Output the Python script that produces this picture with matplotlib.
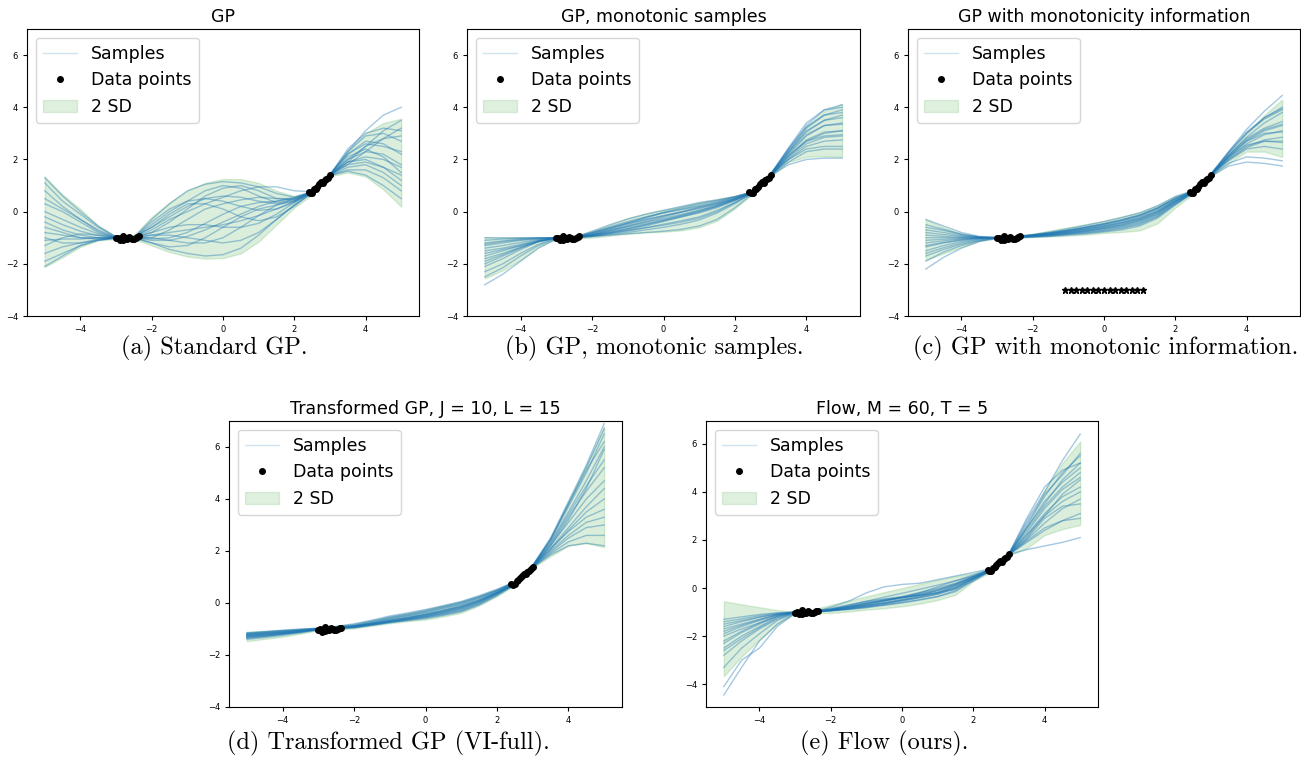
import numpy as np
import matplotlib
matplotlib.use("Agg")
import matplotlib.pyplot as plt
from matplotlib.lines import Line2D
from matplotlib.patches import Patch

# shared x grid for all curves
X = [-5.0, -4.5, -4.0, -3.5, -3.0, -2.5, -2.0, -1.5, -1.0, -0.5, 0.0,
     0.5, 1.0, 1.5, 2.0, 2.5, 3.0, 3.5, 4.0, 4.5, 5.0]

X_DATA = [-3.0, -2.95, -2.9, -2.87, -2.82, -2.8, -2.75, -2.7, -2.65, -2.6,
          -2.55, -2.5, -2.45, -2.4, -2.36,
          2.4, 2.45, 2.5, 2.55, 2.6, 2.65, 2.7, 2.75, 2.8, 2.85, 2.9, 2.95, 3.0]
Y_DATA = [-1.02, -1.0, -1.1, -1.05, -0.92, -1.08, -1.02, -1.05, -0.97, -1.0,
          -1.04, -1.03, -1.0, -0.97, -0.95,
          0.75, 0.7, 0.72, 0.85, 0.88, 0.95, 1.05, 1.12, 1.1, 1.2, 1.25, 1.3, 1.4]

# virtual monotonicity points in panel (c)
X_VIRT = [-1.1, -0.94, -0.79, -0.63, -0.47, -0.31, -0.16, 0.0,
          0.16, 0.31, 0.47, 0.63, 0.79, 0.94, 1.1]
Y_VIRT = [-3.0] * 15

# (a) standard GP
A_UP = [1.33, 0.65, 0.1, -0.55, -0.95, -0.9, -0.2, 0.35, 0.8, 1.1, 1.25,
        1.25, 1.1, 0.8, 0.6, 0.75, 1.45, 2.3, 3.0, 3.4, 3.56]
A_LO = [-2.12, -1.75, -1.35, -1.1, -1.05, -1.05, -1.3, -1.55, -1.72, -1.8, -1.78,
        -1.6, -1.15, -0.5, 0.15, 0.65, 1.35, 1.5, 1.35, 0.85, 0.19]
A_SAMPLES = [
    [1.1, 0.4, -0.1, -0.6, -0.98, -1.0, -0.3, 0.3, 0.8, 1.05, 1.15, 1.1, 0.95, 0.7, 0.55, 0.78, 1.42, 2.3, 3.1, 3.7, 4.0],
    [-1.9, -1.6, -1.3, -1.1, -1.02, -1.0, -1.2, -1.45, -1.6, -1.7, -1.65, -1.4, -0.9, -0.3, 0.25, 0.72, 1.38, 1.55, 1.4, 1.0, 0.5],
    [0.5, 0.1, -0.3, -0.7, -1.0, -0.95, -0.6, -0.2, 0.2, 0.5, 0.6, 0.55, 0.4, 0.3, 0.4, 0.75, 1.4, 2.0, 2.5, 2.8, 2.9],
    [-0.8, -0.9, -1.0, -1.0, -1.0, -1.0, -0.9, -0.8, -0.7, -0.6, -0.5, -0.35, -0.15, 0.1, 0.4, 0.74, 1.4, 1.9, 2.1, 2.0, 1.7],
    [-1.3, -1.0, -0.85, -0.9, -1.0, -1.02, -1.1, -1.1, -0.95, -0.7, -0.4, -0.1, 0.2, 0.4, 0.55, 0.76, 1.41, 2.2, 2.7, 2.6, 2.2],
    [0.0, -0.3, -0.6, -0.85, -1.0, -0.98, -0.8, -0.6, -0.5, -0.5, -0.6, -0.6, -0.45, -0.1, 0.35, 0.75, 1.38, 1.7, 1.8, 1.5, 1.0],
    [-0.4, -0.7, -0.9, -1.0, -1.0, -1.0, -0.7, -0.3, 0.0, 0.3, 0.55, 0.8, 0.95, 0.95, 0.8, 0.76, 1.4, 2.2, 2.6, 2.5, 2.3],
    [-1.6, -1.35, -1.2, -1.05, -1.0, -1.0, -1.05, -1.0, -0.8, -0.45, -0.1, 0.2, 0.35, 0.4, 0.5, 0.74, 1.4, 1.8, 2.3, 2.8, 3.2],
    [0.8, 0.2, -0.3, -0.75, -1.0, -1.0, -0.9, -0.9, -1.0, -1.1, -1.2, -1.1, -0.8, -0.3, 0.25, 0.73, 1.39, 1.6, 1.6, 1.3, 0.8],
    [-1.1, -1.05, -1.05, -1.0, -1.0, -1.0, -0.5, 0.0, 0.4, 0.8, 1.0, 0.9, 0.6, 0.35, 0.45, 0.75, 1.42, 2.0, 2.3, 2.2, 1.8],
    [-0.2, -0.5, -0.75, -0.92, -1.0, -1.0, -1.0, -1.1, -1.2, -1.2, -1.0, -0.6, -0.15, 0.25, 0.5, 0.75, 1.4, 2.4, 3.0, 3.2, 3.1],
    [1.3, 0.6, 0.0, -0.55, -0.97, -0.98, -0.4, 0.1, 0.4, 0.5, 0.4, 0.2, 0.05, 0.1, 0.35, 0.74, 1.41, 1.9, 2.0, 1.7, 1.2],
    [-2.1, -1.7, -1.3, -1.08, -1.01, -1.0, -0.8, -0.4, 0.1, 0.6, 0.9, 1.0, 0.8, 0.5, 0.45, 0.75, 1.39, 1.9, 2.5, 3.1, 3.5],
    [0.3, 0.0, -0.4, -0.8, -1.0, -1.02, -1.2, -1.35, -1.3, -1.0, -0.6, -0.2, 0.1, 0.25, 0.4, 0.74, 1.4, 2.1, 2.4, 2.1, 1.5],
    [-0.6, -0.8, -1.0, -1.05, -1.0, -1.0, -0.6, -0.1, 0.3, 0.3, 0.1, -0.2, -0.35, -0.2, 0.2, 0.73, 1.42, 2.3, 2.9, 3.0, 2.7],
    [-1.0, -1.2, -1.2, -1.1, -1.0, -1.0, -1.0, -0.7, -0.3, 0.1, 0.3, 0.45, 0.55, 0.5, 0.5, 0.76, 1.41, 1.8, 1.9, 1.7, 1.4],
]

# (b) GP, monotonic samples
B_UP = [-0.98, -1.0, -1.0, -1.0, -0.98, -0.95, -0.75, -0.5, -0.25, -0.07, 0.07,
        0.2, 0.35, 0.48, 0.6, 0.78, 1.45, 2.3, 3.25, 3.85, 4.13]
B_LO = [-2.56, -2.25, -1.85, -1.35, -1.05, -1.03, -1.0, -0.92, -0.85, -0.8, -0.77,
        -0.72, -0.6, -0.35, 0.12, 0.68, 1.35, 1.9, 2.1, 2.12, 2.1]
B_SAMPLES = [
    [-2.8, -2.4, -1.9, -1.4, -1.05, -1.0, -0.95, -0.9, -0.85, -0.8, -0.75, -0.68, -0.55, -0.3, 0.15, 0.7, 1.38, 1.8, 2.0, 2.05, 2.05],
    [-1.0, -1.0, -1.0, -1.0, -1.0, -0.98, -0.75, -0.5, -0.28, -0.1, 0.05, 0.2, 0.35, 0.45, 0.58, 0.76, 1.45, 2.4, 3.3, 3.9, 4.1],
    [-2.3, -2.0, -1.6, -1.25, -1.02, -1.0, -0.9, -0.75, -0.6, -0.45, -0.3, -0.15, 0.0, 0.2, 0.45, 0.74, 1.42, 2.2, 2.9, 3.3, 3.4],
    [-1.3, -1.2, -1.1, -1.05, -1.0, -1.0, -0.85, -0.65, -0.45, -0.25, -0.05, 0.1, 0.25, 0.38, 0.55, 0.75, 1.4, 2.0, 2.5, 2.7, 2.75],
    [-1.8, -1.6, -1.35, -1.15, -1.0, -1.0, -0.95, -0.85, -0.75, -0.62, -0.48, -0.35, -0.2, 0.05, 0.35, 0.72, 1.41, 2.3, 3.1, 3.5, 3.6],
    [-1.5, -1.4, -1.25, -1.1, -1.0, -1.0, -0.8, -0.58, -0.38, -0.2, -0.05, 0.08, 0.2, 0.32, 0.5, 0.74, 1.4, 2.0, 2.4, 2.5, 2.5],
    [-2.1, -1.8, -1.45, -1.15, -1.02, -1.0, -0.92, -0.82, -0.7, -0.55, -0.38, -0.2, -0.05, 0.15, 0.42, 0.73, 1.43, 2.45, 3.4, 3.9, 4.0],
    [-1.1, -1.05, -1.02, -1.0, -1.0, -1.0, -0.88, -0.72, -0.55, -0.38, -0.2, -0.02, 0.15, 0.3, 0.5, 0.75, 1.4, 2.1, 2.7, 3.0, 3.1],
    [-2.0, -1.7, -1.4, -1.15, -1.01, -1.0, -0.95, -0.88, -0.8, -0.7, -0.6, -0.48, -0.32, -0.05, 0.3, 0.72, 1.38, 1.9, 2.3, 2.4, 2.4],
    [-1.6, -1.45, -1.3, -1.12, -1.0, -1.0, -0.85, -0.68, -0.5, -0.32, -0.15, 0.0, 0.18, 0.35, 0.55, 0.76, 1.42, 2.25, 2.95, 3.3, 3.35],
    [-1.2, -1.12, -1.05, -1.01, -1.0, -0.98, -0.8, -0.62, -0.42, -0.22, -0.02, 0.15, 0.3, 0.42, 0.57, 0.76, 1.44, 2.35, 3.2, 3.7, 3.9],
    [-1.9, -1.65, -1.38, -1.14, -1.01, -1.0, -0.9, -0.78, -0.65, -0.5, -0.35, -0.2, -0.02, 0.2, 0.45, 0.74, 1.41, 2.15, 2.75, 3.05, 3.1],
    [-1.4, -1.3, -1.18, -1.07, -1.0, -1.0, -0.92, -0.8, -0.66, -0.5, -0.33, -0.15, 0.05, 0.25, 0.48, 0.75, 1.42, 2.3, 3.05, 3.5, 3.7],
    [-2.5, -2.15, -1.7, -1.3, -1.03, -1.0, -0.92, -0.82, -0.72, -0.62, -0.52, -0.4, -0.25, 0.0, 0.35, 0.72, 1.39, 2.05, 2.6, 2.85, 2.9],
    [-1.7, -1.5, -1.3, -1.12, -1.0, -1.0, -0.88, -0.72, -0.56, -0.4, -0.25, -0.1, 0.05, 0.22, 0.45, 0.74, 1.4, 2.15, 2.7, 2.9, 2.95],
    [-1.25, -1.15, -1.08, -1.03, -1.0, -0.99, -0.82, -0.63, -0.45, -0.3, -0.16, -0.02, 0.12, 0.28, 0.5, 0.75, 1.43, 2.4, 3.25, 3.7, 3.8],
]

# (c) GP with monotonicity information
C_UP = [-0.3, -0.6, -0.85, -0.97, -0.97, -0.93, -0.85, -0.72, -0.6, -0.48, -0.35,
        -0.2, -0.02, 0.25, 0.6, 0.82, 1.45, 2.2, 3.0, 3.7, 4.3]
C_LO = [-1.85, -1.6, -1.35, -1.12, -1.03, -1.0, -0.98, -0.95, -0.92, -0.88, -0.82,
        -0.78, -0.72, -0.45, 0.15, 0.68, 1.35, 1.85, 2.3, 2.3, 2.1]
C_SAMPLES = [
    [-2.2, -1.75, -1.4, -1.15, -1.02, -1.0, -0.98, -0.95, -0.9, -0.85, -0.78, -0.7, -0.55, -0.25, 0.25, 0.72, 1.35, 1.75, 1.9, 1.85, 1.75],
    [-0.3, -0.55, -0.8, -0.95, -0.99, -0.96, -0.88, -0.78, -0.65, -0.52, -0.38, -0.22, -0.05, 0.22, 0.58, 0.8, 1.45, 2.3, 3.15, 3.85, 4.45],
    [-1.5, -1.3, -1.15, -1.05, -1.0, -0.98, -0.94, -0.88, -0.8, -0.72, -0.62, -0.5, -0.32, -0.05, 0.38, 0.75, 1.4, 2.05, 2.6, 2.95, 3.1],
    [-0.7, -0.8, -0.92, -0.98, -1.0, -0.97, -0.92, -0.85, -0.76, -0.66, -0.55, -0.42, -0.25, 0.02, 0.42, 0.77, 1.42, 2.15, 2.85, 3.4, 3.8],
    [-1.2, -1.12, -1.05, -1.01, -1.0, -0.98, -0.93, -0.87, -0.79, -0.7, -0.6, -0.47, -0.3, -0.02, 0.4, 0.76, 1.41, 2.0, 2.5, 2.75, 2.85],
    [-1.0, -1.0, -1.0, -1.0, -1.0, -0.97, -0.91, -0.84, -0.75, -0.65, -0.54, -0.4, -0.22, 0.05, 0.45, 0.77, 1.42, 2.25, 3.0, 3.6, 4.0],
    [-1.7, -1.45, -1.25, -1.1, -1.01, -0.99, -0.96, -0.92, -0.86, -0.8, -0.72, -0.62, -0.46, -0.18, 0.3, 0.73, 1.38, 1.95, 2.4, 2.5, 2.4],
    [-0.9, -0.95, -0.98, -1.0, -1.0, -0.97, -0.9, -0.82, -0.72, -0.6, -0.48, -0.33, -0.15, 0.12, 0.5, 0.78, 1.43, 2.2, 2.8, 3.2, 3.45],
    [-1.35, -1.2, -1.1, -1.03, -1.0, -0.98, -0.95, -0.9, -0.83, -0.75, -0.66, -0.55, -0.38, -0.1, 0.35, 0.75, 1.4, 2.1, 2.7, 3.1, 3.3],
    [-0.5, -0.68, -0.86, -0.97, -1.0, -0.96, -0.89, -0.8, -0.7, -0.58, -0.45, -0.3, -0.12, 0.15, 0.52, 0.79, 1.44, 2.1, 2.55, 2.7, 2.65],
    [-1.1, -1.06, -1.03, -1.01, -1.0, -0.97, -0.92, -0.85, -0.77, -0.68, -0.57, -0.44, -0.27, 0.0, 0.42, 0.76, 1.41, 2.15, 2.75, 3.15, 3.35],
    [-0.8, -0.88, -0.95, -0.99, -1.0, -0.97, -0.9, -0.83, -0.73, -0.62, -0.5, -0.36, -0.18, 0.1, 0.48, 0.78, 1.43, 2.3, 3.05, 3.6, 3.95],
    [-1.6, -1.38, -1.2, -1.07, -1.0, -0.98, -0.95, -0.9, -0.84, -0.77, -0.69, -0.58, -0.42, -0.14, 0.32, 0.74, 1.39, 2.0, 2.45, 2.7, 2.7],
    [-1.3, -1.18, -1.08, -1.02, -1.0, -0.98, -0.94, -0.89, -0.82, -0.74, -0.64, -0.52, -0.35, -0.08, 0.37, 0.75, 1.4, 2.1, 2.7, 3.0, 3.05],
    [-0.6, -0.72, -0.88, -0.97, -1.0, -0.96, -0.89, -0.81, -0.71, -0.6, -0.47, -0.32, -0.14, 0.14, 0.51, 0.79, 1.44, 2.25, 3.0, 3.55, 3.9],
    [-1.9, -1.55, -1.3, -1.12, -1.01, -0.99, -0.96, -0.93, -0.87, -0.82, -0.75, -0.65, -0.5, -0.2, 0.28, 0.72, 1.37, 1.85, 2.1, 2.05, 1.95],
]

# (d) transformed GP
D_UP = [-1.1, -1.07, -1.03, -1.0, -0.96, -0.9, -0.82, -0.68, -0.52, -0.4, -0.26,
        -0.1, 0.06, 0.27, 0.52, 0.82, 1.45, 2.5, 3.9, 5.3, 6.8]
D_LO = [-1.47, -1.38, -1.3, -1.18, -1.05, -1.02, -0.98, -0.88, -0.78, -0.7, -0.64,
        -0.52, -0.38, -0.1, 0.26, 0.68, 1.35, 1.8, 2.2, 2.3, 2.15]
D_SAMPLES = [
    [-1.15, -1.1, -1.05, -1.0, -0.97, -0.9, -0.8, -0.66, -0.5, -0.38, -0.25, -0.1, 0.06, 0.28, 0.53, 0.82, 1.45, 2.5, 3.9, 5.3, 6.9],
    [-1.4, -1.33, -1.25, -1.15, -1.04, -1.0, -0.96, -0.86, -0.76, -0.68, -0.6, -0.48, -0.34, -0.08, 0.28, 0.7, 1.36, 1.85, 2.2, 2.3, 2.2],
    [-1.25, -1.2, -1.15, -1.08, -1.0, -0.96, -0.9, -0.8, -0.68, -0.57, -0.45, -0.3, -0.14, 0.1, 0.4, 0.75, 1.4, 2.2, 3.2, 4.4, 5.9],
    [-1.3, -1.25, -1.18, -1.1, -1.01, -0.97, -0.92, -0.82, -0.72, -0.62, -0.52, -0.38, -0.22, 0.03, 0.36, 0.74, 1.39, 2.05, 2.8, 3.5, 4.0],
    [-1.2, -1.15, -1.1, -1.05, -0.99, -0.94, -0.88, -0.76, -0.62, -0.5, -0.38, -0.22, -0.06, 0.17, 0.45, 0.78, 1.42, 2.35, 3.5, 4.7, 6.0],
    [-1.35, -1.28, -1.2, -1.12, -1.02, -0.98, -0.94, -0.84, -0.74, -0.64, -0.55, -0.42, -0.28, -0.02, 0.33, 0.72, 1.38, 1.95, 2.5, 2.9, 3.0],
    [-1.22, -1.17, -1.12, -1.06, -1.0, -0.95, -0.89, -0.78, -0.65, -0.54, -0.42, -0.27, -0.1, 0.13, 0.42, 0.76, 1.41, 2.3, 3.4, 4.5, 5.5],
    [-1.28, -1.22, -1.16, -1.09, -1.0, -0.96, -0.91, -0.81, -0.7, -0.6, -0.48, -0.34, -0.18, 0.06, 0.38, 0.75, 1.4, 2.1, 2.9, 3.7, 4.4],
    [-1.32, -1.26, -1.19, -1.11, -1.01, -0.97, -0.93, -0.83, -0.73, -0.63, -0.53, -0.4, -0.25, 0.0, 0.35, 0.73, 1.39, 2.0, 2.6, 3.1, 3.3],
    [-1.18, -1.13, -1.08, -1.03, -0.98, -0.93, -0.86, -0.72, -0.57, -0.45, -0.32, -0.16, 0.0, 0.22, 0.48, 0.8, 1.43, 2.4, 3.7, 5.0, 6.5],
    [-1.24, -1.18, -1.13, -1.07, -1.0, -0.95, -0.89, -0.79, -0.67, -0.56, -0.44, -0.29, -0.12, 0.11, 0.41, 0.76, 1.41, 2.25, 3.3, 4.3, 5.2],
    [-1.3, -1.24, -1.17, -1.1, -1.01, -0.97, -0.92, -0.82, -0.71, -0.61, -0.5, -0.36, -0.2, 0.05, 0.37, 0.74, 1.4, 2.1, 2.75, 3.3, 3.6],
    [-1.2, -1.15, -1.1, -1.05, -0.99, -0.94, -0.88, -0.75, -0.6, -0.48, -0.35, -0.19, -0.03, 0.2, 0.47, 0.79, 1.43, 2.45, 3.8, 5.1, 6.2],
    [-1.36, -1.29, -1.21, -1.13, -1.02, -0.98, -0.94, -0.85, -0.75, -0.66, -0.57, -0.45, -0.31, -0.05, 0.3, 0.71, 1.37, 1.9, 2.35, 2.6, 2.6],
    [-1.26, -1.2, -1.14, -1.07, -1.0, -0.96, -0.9, -0.8, -0.69, -0.58, -0.46, -0.32, -0.16, 0.08, 0.39, 0.75, 1.4, 2.2, 3.1, 4.0, 4.7],
    [-1.16, -1.11, -1.06, -1.02, -0.97, -0.91, -0.83, -0.69, -0.54, -0.42, -0.29, -0.13, 0.03, 0.25, 0.5, 0.81, 1.44, 2.45, 3.8, 5.2, 6.7],
]

# (e) flow
E_UP = [-0.55, -0.68, -0.8, -0.92, -0.98, -0.9, -0.7, -0.52, -0.35, -0.17, 0.0,
        0.17, 0.34, 0.5, 0.62, 0.82, 1.45, 2.6, 4.05, 5.2, 6.1]
E_LO = [-3.67, -2.85, -2.15, -1.5, -1.05, -1.02, -1.04, -0.98, -0.9, -0.84, -0.76,
        -0.65, -0.5, -0.28, 0.28, 0.68, 1.35, 1.65, 2.2, 2.45, 2.63]
E_SAMPLES = [
    [-4.45, -3.3, -2.2, -1.5, -1.03, -1.0, -0.95, -0.85, -0.7, -0.55, -0.4, -0.2, 0.05, 0.3, 0.55, 0.78, 1.42, 2.8, 4.0, 5.3, 6.4],
    [-4.1, -3.0, -2.5, -1.6, -1.05, -1.0, -0.8, -0.55, -0.2, 0.05, 0.15, 0.2, 0.35, 0.5, 0.65, 0.8, 1.4, 1.6, 1.75, 1.9, 2.1],
    [-1.3, -1.2, -1.1, -1.03, -1.0, -0.98, -0.9, -0.8, -0.72, -0.62, -0.5, -0.35, -0.2, 0.1, 0.45, 0.75, 1.4, 2.5, 3.6, 4.4, 5.0],
    [-2.2, -1.8, -1.45, -1.15, -1.01, -0.99, -0.88, -0.72, -0.55, -0.38, -0.22, -0.05, 0.12, 0.3, 0.5, 0.76, 1.41, 2.2, 3.0, 3.6, 4.0],
    [-1.7, -1.5, -1.3, -1.1, -1.0, -0.97, -0.85, -0.7, -0.55, -0.45, -0.38, -0.3, -0.2, -0.05, 0.3, 0.74, 1.42, 2.6, 3.8, 4.8, 5.5],
    [-2.8, -2.2, -1.7, -1.3, -1.02, -1.0, -0.92, -0.82, -0.72, -0.6, -0.46, -0.3, -0.1, 0.15, 0.45, 0.77, 1.39, 1.9, 2.4, 2.8, 3.1],
    [-1.9, -1.6, -1.35, -1.12, -1.0, -0.98, -0.93, -0.86, -0.78, -0.7, -0.6, -0.48, -0.35, -0.1, 0.35, 0.73, 1.4, 2.3, 3.3, 4.1, 4.6],
    [-2.5, -2.0, -1.6, -1.22, -1.02, -0.99, -0.9, -0.75, -0.6, -0.48, -0.35, -0.18, 0.0, 0.2, 0.5, 0.78, 1.43, 2.9, 4.2, 4.9, 5.2],
    [-1.5, -1.35, -1.2, -1.08, -1.0, -0.98, -0.94, -0.88, -0.8, -0.68, -0.55, -0.4, -0.25, 0.0, 0.4, 0.75, 1.4, 2.0, 2.7, 3.3, 3.7],
    [-3.3, -2.5, -1.9, -1.35, -1.03, -1.0, -0.95, -0.9, -0.82, -0.72, -0.62, -0.5, -0.36, -0.15, 0.3, 0.72, 1.38, 2.1, 3.0, 3.9, 4.5],
    [-2.0, -1.7, -1.45, -1.18, -1.01, -0.99, -0.92, -0.8, -0.66, -0.52, -0.38, -0.22, -0.05, 0.18, 0.48, 0.76, 1.41, 2.4, 3.4, 4.2, 4.8],
    [-1.6, -1.4, -1.22, -1.08, -1.0, -0.98, -0.9, -0.78, -0.65, -0.52, -0.4, -0.28, -0.12, 0.1, 0.4, 0.75, 1.4, 2.2, 3.1, 3.8, 4.2],
    [-2.6, -2.1, -1.65, -1.25, -1.02, -1.0, -0.94, -0.86, -0.76, -0.64, -0.5, -0.36, -0.2, 0.05, 0.4, 0.74, 1.42, 2.7, 3.9, 4.7, 5.6],
    [-1.4, -1.28, -1.15, -1.05, -1.0, -0.97, -0.88, -0.76, -0.62, -0.5, -0.4, -0.3, -0.18, 0.02, 0.38, 0.75, 1.39, 1.95, 2.5, 2.8, 2.9],
    [-2.3, -1.85, -1.5, -1.18, -1.01, -0.99, -0.91, -0.79, -0.66, -0.53, -0.4, -0.25, -0.08, 0.15, 0.45, 0.77, 1.42, 2.5, 3.5, 4.5, 5.2],
    [-1.8, -1.55, -1.32, -1.12, -1.0, -0.98, -0.93, -0.85, -0.75, -0.64, -0.52, -0.4, -0.26, -0.02, 0.38, 0.74, 1.4, 2.05, 2.9, 3.4, 3.5],
]

TITLES = ["GP", "GP, monotonic samples", "GP with monotonicity information",
          "Transformed GP, J = 10, L = 15", "Flow, M = 60, T = 5"]
CAPTIONS = ["(a) Standard GP.", "(b) GP, monotonic samples.",
            "(c) GP with monotonic information.",
            "(d) Transformed GP (VI-full).", "(e) Flow (ours)."]

SAMPLE_COLOR = "#1f77b4"
BAND_COLOR = "#2ca02c"

W, H = 1301, 765
fig = plt.figure(figsize=(W / 100, H / 100), dpi=100)

# axes boxes in pixels: left, top, right, bottom
boxes = [(27, 29, 419, 316), (467, 29, 860, 316), (908, 29, 1300, 316),
         (229, 421, 622, 707), (706, 421, 1098, 707)]
ylims = [(-4, 7), (-4, 7), (-4, 7), (-4, 7), (-4.95, 6.95)]
caption_pos = [(214, 348), (654, 348), (1106, 348), (388, 743), (884, 743)]

panels = [(A_UP, A_LO, A_SAMPLES), (B_UP, B_LO, B_SAMPLES), (C_UP, C_LO, C_SAMPLES),
          (D_UP, D_LO, D_SAMPLES), (E_UP, E_LO, E_SAMPLES)]

for i, (up, lo, samples) in enumerate(panels):
    l, t, r, b = boxes[i]
    ax = fig.add_axes([l / W, 1 - b / H, (r - l) / W, (b - t) / H])
    for s in samples:
        ax.plot(X, s, color=SAMPLE_COLOR, alpha=0.4, linewidth=1.0)
    ax.fill_between(X, lo, up, color=BAND_COLOR, alpha=0.17, linewidth=1.0)
    ax.plot(X_DATA, Y_DATA, "ko", markersize=4)
    if i == 2:
        ax.plot(X_VIRT, Y_VIRT, "k*", markersize=5)
    ax.set_xlim(-5.5, 5.5)
    ax.set_ylim(*ylims[i])
    ax.set_xticks([-4, -2, 0, 2, 4])
    ax.set_yticks([-4, -2, 0, 2, 4, 6])
    ax.tick_params(labelsize=6, length=3, width=0.8)
    ax.set_title(TITLES[i], fontsize=12.5, pad=5)

    handles = [Line2D([], [], color=SAMPLE_COLOR, alpha=0.2, linewidth=1.0),
               Line2D([], [], color="k", marker="o", linestyle="none", markersize=4),
               Patch(facecolor=BAND_COLOR, edgecolor=BAND_COLOR, alpha=0.15)]
    ax.legend(handles, ["Samples", "Data points", "2 SD"], loc="upper left",
              fontsize=12.5)

    cx, cy = caption_pos[i]
    fig.text(cx / W, 1 - cy / H, CAPTIONS[i], ha="center", va="center",
             fontsize=17.5, family="cmr10")

fig.savefig("out.png", dpi=100)
